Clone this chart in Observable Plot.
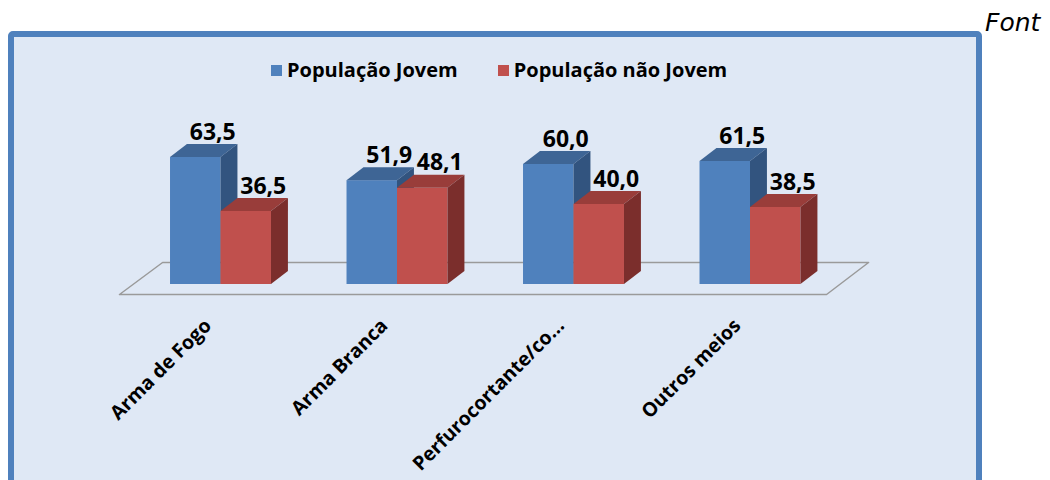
<!DOCTYPE html>
<html>
<head>
<meta charset="utf-8">
<script src="https://cdn.jsdelivr.net/npm/d3@7"></script>
<script src="https://cdn.jsdelivr.net/npm/@observablehq/plot@0.6"></script>
<style>
  body { margin: 0; background: #fff; }
  #wrap { position: relative; width: 1050px; height: 480px; overflow: hidden; background: #fff; }
  #box { position: absolute; left: 8px; top: 31px; width: 962px; height: 470px;
         border: 6px solid #4f81bd; border-radius: 5px; background: #dfe8f5; }
  #font { position: absolute; left: 985px; top: 8px; font-family: "DejaVu Sans"; font-style: italic;
          font-size: 25px; line-height: 30px; color: #000; }
  #legend { position: absolute; left: 271px; top: 57px; display: flex; align-items: center;
            font-family: "Open Sans"; font-weight: bold; font-size: 20px; line-height: 26px; color: #000; }
  #legend .item { display: flex; align-items: center; margin-right: 40px; }
  #legend .sw { width: 11px; height: 11px; margin-right: 5px; }
  #chart { position: absolute; left: 0; top: 0; }
</style>
</head>
<body>
<div id="wrap">
  <div id="box"></div>
  <div id="font">Font</div>
  <div id="legend"></div>
  <div id="chart"></div>
</div>
<script>
// ---- data ----
const categories = ["Arma de Fogo", "Arma Branca", "Perfurocortante/co...", "Outros meios"];
const seriesNames = ["População Jovem", "População não Jovem"];
const jovem = [63.5, 51.9, 60.0, 61.5];
const naoJovem = [36.5, 48.1, 40.0, 38.5];

// ---- styles / geometry ----
const palette = [
  {front: "#4f81bd", top: "#3e6595", side: "#32547f"},
  {front: "#c0504d", top: "#993d3a", side: "#7b2e2c"}
];
const barW = 0.286;      // bar width in category units
const depthX = 0.096;    // 3D depth, x (category units)
const depthY = 6.5;      // 3D depth, y (value units)
const floorFront = -5, floorBack = 11;
const floorX = {fl: -0.575, fr: 3.431, bl: -0.331, br: 3.669};

// legend
const legend = document.getElementById("legend");
seriesNames.forEach((name, s) => {
  const item = document.createElement("div");
  item.className = "item";
  const sw = document.createElement("div");
  sw.className = "sw";
  sw.style.background = palette[s].front;
  const t = document.createElement("span");
  t.textContent = name;
  item.appendChild(sw); item.appendChild(t);
  legend.appendChild(item);
});

const seriesValues = [jovem, naoJovem];
const bars = [];
categories.forEach((c, i) => {
  seriesValues.forEach((vals, s) => {
    const x0 = s === 0 ? i - barW : i;
    bars.push({id: `${i}-${s}`, cat: c, i, s, value: vals[i], x0, x1: x0 + barW});
  });
});

const topPts = bars.flatMap(b => [
  {id: b.id, s: b.s, y: b.value, xa: b.x0, xb: b.x1},
  {id: b.id, s: b.s, y: b.value + depthY, xa: b.x0 + depthX, xb: b.x1 + depthX}
]);
const sidePts = bars.flatMap(b => [
  {id: b.id, s: b.s, x: b.x1, ya: 0, yb: b.value},
  {id: b.id, s: b.s, x: b.x1 + depthX, ya: depthY, yb: b.value + depthY}
]);
const floor = [
  {x: floorX.fl, y: floorFront}, {x: floorX.fr, y: floorFront},
  {x: floorX.br, y: floorBack}, {x: floorX.bl, y: floorBack}, {x: floorX.fl, y: floorFront}
];

const marks = [
  Plot.line(floor, {x: "x", y: "y", stroke: "#9a9a9a", strokeWidth: 1.5, curve: "linear"})
];
[0, 1].forEach(s => {
  const bs = bars.filter(b => b.s === s);
  marks.push(
    Plot.rect(bs, {x1: "x0", x2: "x1", y1: 0, y2: "value", fill: palette[s].front, inset: 0}),
    Plot.areaX(topPts.filter(p => p.s === s), {y: "y", x1: "xa", x2: "xb", z: "id", fill: palette[s].top, curve: "linear"}),
    Plot.areaY(sidePts.filter(p => p.s === s), {x: "x", y1: "ya", y2: "yb", z: "id", fill: palette[s].side, curve: "linear"})
  );
});
marks.push(
  Plot.text(bars, {
    x: b => (b.x0 + b.x1) / 2, y: "value",
    text: b => b.value.toFixed(1).replace(".", ","),
    dx: 17, dy: -18, lineAnchor: "bottom",
    fontSize: 23, fontWeight: "bold", fill: "#000"
  }),
  Plot.text(categories, {
    x: (d, i) => i, y: () => 0, text: d => d,
    rotate: -45, textAnchor: "end", lineAnchor: "middle",
    dx: -13, dy: 38, fontSize: 19.5, fontWeight: "bold", fill: "#000"
  })
);

const chart = Plot.plot({
  width: 1050, height: 480,
  marginLeft: 132.25, marginRight: 211.75, marginTop: 84, marginBottom: 196,
  x: {domain: [-0.5, 3.5], axis: null},
  y: {domain: [0, 100], axis: null},
  style: {background: "transparent", fontFamily: "Open Sans", overflow: "visible"},
  marks
});
document.getElementById("chart").appendChild(chart);
</script>
</body>
</html>
